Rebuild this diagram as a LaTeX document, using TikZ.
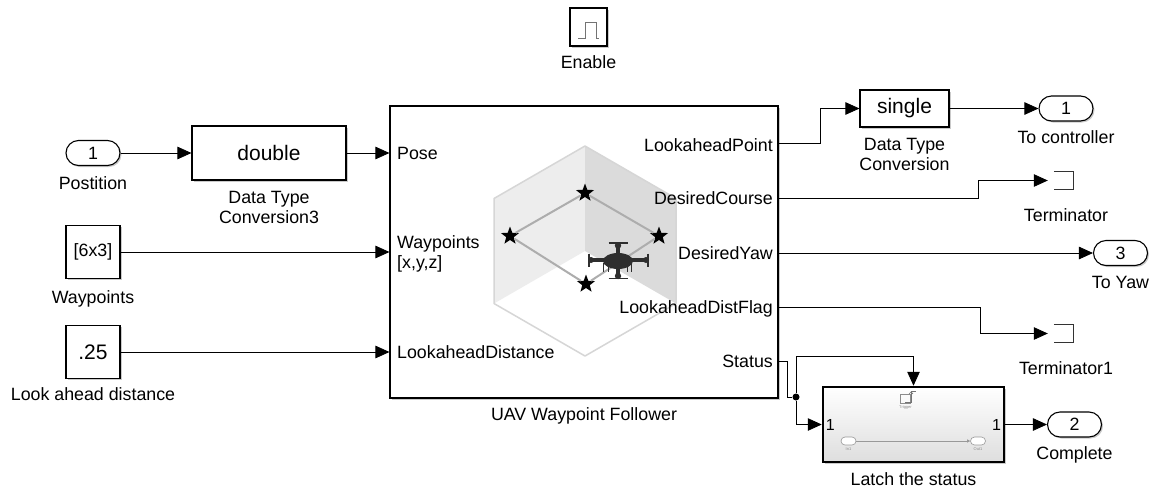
\documentclass[tikz,border=0pt]{standalone}
\usepackage{fontspec}
\setmainfont{Liberation Sans}
\usetikzlibrary{positioning,shapes.geometric,shadows,arrows.meta}

\begin{document}
\begin{tikzpicture}[x=1pt, y=-1pt, node distance=10pt,
    every node/.style={font=\fontsize{17.8}{20}\selectfont},
    blk/.style={draw, line width=1.1pt, fill=white, inner sep=0pt,
      drop shadow={shadow xshift=1.5pt, shadow yshift=-1.5pt, fill=black!60, opacity=.35}},
    port/.style={blk, rounded corners=12.5pt, minimum width=54pt, minimum height=25pt},
    cnst/.style={blk, minimum width=54pt, minimum height=53pt},
    conv/.style={blk, font=\fontsize{21}{24}\selectfont},
    lbl/.style={inner sep=0pt, align=center},
    sig/.style={line width=0.8pt, -{Triangle[length=14pt, width=12.5pt]}},
    wire/.style={line width=0.8pt},
    termbox/.style={minimum width=25pt, minimum height=17pt, inner sep=0pt},
    wpstar/.style={star, star points=5, star point ratio=2.4, fill=black, inner sep=0pt, minimum size=19pt},
    minip/.style={draw=black!40, fill=white, rounded corners=4pt, line width=.6pt, minimum width=15pt, minimum height=8pt, inner sep=0pt},
    tinytxt/.style={font=\fontsize{4}{4}\selectfont, text=black!45, inner sep=0pt}
  ]
  \useasboundingbox (0,0) rectangle (1154,488);

  % inputs
  \node (pos) [port] at (93,153) {1};
  \node (posl) [lbl, below=10pt of pos] {Postition};
  \node (wpc) [cnst] at (93,252) {[6x3]};
  \node (wpcl) [lbl, below=11pt of wpc] {Waypoints};
  \node (ladc) [cnst, font=\fontsize{21}{24}\selectfont] at (93,352) {.25};
  \node (ladcl) [lbl, below=8pt of ladc] {Look ahead distance};

  \node (dtc3) [conv, minimum width=154pt, minimum height=54pt] at (269,153) {double};
  \node (dtc3l) [lbl, below=10pt of dtc3] {Data Type\\Conversion3};

  % enable port
  \node (enb) [blk, minimum width=37pt, minimum height=38pt] at (588.5,27) {};
  \draw[black!55, line width=.8pt] (578,38) -- (585,38) -- (585,22) -- (596,22) -- (596,38) -- (599,38);
  \node (enbl) [lbl, below=9pt of enb] {Enable};

  % follower block
  \node (uav) [blk, minimum width=388pt, minimum height=292pt] at (584,252) {};
  \node (uavl) [lbl, below=9pt of uav] {UAV Waypoint Follower};

  % cube corner icon
  \fill[black!7] (494,198.5) -- (585,146) -- (585,251) -- (494,303.5) -- cycle;
  \fill[black!14] (585,146) -- (676,198.5) -- (676,303.5) -- (585,251) -- cycle;
  \draw[black!16, line width=1.5pt, line join=round] (585,146) -- (676,198.5) -- (676,303.5)
    -- (585,356) -- (494,303.5) -- (494,198.5) -- cycle;
  \node (s1) [wpstar] at (585,193) {};
  \node (s2) [wpstar] at (510,236) {};
  \node (s3) [wpstar] at (659,236) {};
  \node (s4) [wpstar] at (586,284) {};
  \draw[black!32, line width=2pt] (s1) -- (s2) -- (s4) -- (s3) -- (s1);

  % quadcopter
  \begin{scope}[shift={(618,260)}, black!82]
    \fill (-28,-2.2) rectangle (28,2.2);
    \fill (-2.2,-15) rectangle (2.2,16);
    \fill (0,1) ellipse [x radius=15, y radius=8];
    \draw[line width=1.4pt] (-9.5,-17) -- (9.5,-17) (-9.5,18.5) -- (9.5,18.5)
      (-29,-6.5) -- (-29,6.5) (30,-6.5) -- (30,6.5);
    \fill (0,-14.5) circle (3.2) (0,16) circle (3.2) (-27,0) circle (3) (28,0) circle (3);
    \draw[line width=1pt] (-15,3) -- (-15,12) (-10,4) -- (-10,12) (9,4) -- (9,12) (13,3) -- (13,12);
  \end{scope}

  % port names
  \node (pPose) [lbl, anchor=base west] at (397,159) {Pose};
  \node (pWp) [lbl, anchor=north west, align=left] at (397,235.5) {Waypoints\\{[x,y,z]}};
  \node (pLad) [lbl, anchor=base west] at (397,358) {LookaheadDistance};
  \node (pLap) [lbl, anchor=base east] at (773,151) {LookaheadPoint};
  \node (pDc) [lbl, anchor=base east] at (773,204) {DesiredCourse};
  \node (pDy) [lbl, anchor=base east] at (773,259) {DesiredYaw};
  \node (pLdf) [lbl, anchor=base east] at (773,313) {LookaheadDistFlag};
  \node (pSt) [lbl, anchor=base east] at (773,367) {Status};
  \coordinate (oLap) at (778,143);
  \coordinate (oDc) at (778,198);
  \coordinate (oDy) at (778,253);
  \coordinate (oLdf) at (778,307);
  \coordinate (oSt) at (778,361);

  % outputs
  \node (sgl) [conv, minimum width=89pt, minimum height=37pt] at (904.5,108.5) {single};
  \node (sgll) [lbl, below=10pt of sgl] {Data Type\\Conversion};
  \node (out1) [port] at (1066,108.5) {1};
  \node (out1l) [lbl, below=9pt of out1] {To controller};
  \node (term) [termbox] at (1060.5,180.5) {};
  \draw[line width=1pt, black!80] ([xshift=6pt]term.north west) -- (term.north east) -- (term.south east) -- ([xshift=6pt]term.south west);
  \node (terml) [lbl, below=19pt of term, xshift=5.5pt] {Terminator};
  \node (out3) [port] at (1120.5,253) {3};
  \node (out3l) [lbl, below=10pt of out3] {To Yaw};
  \node (term1) [termbox] at (1060.5,333.5) {};
  \draw[line width=1pt, black!80] ([xshift=6pt]term1.north west) -- (term1.north east) -- (term1.south east) -- ([xshift=6pt]term1.south west);
  \node (term1l) [lbl, below=19pt of term1, xshift=5.5pt] {Terminator1};

  % triggered latch
  \node (latch) [blk, line width=2.5pt, top color=white, bottom color=black!13,
    minimum width=181pt, minimum height=75pt] at (913.5,424.5) {};
  \node (latchl) [lbl, below=9pt of latch] {Latch the status};
  \node (lin) [lbl, anchor=west, font=\fontsize{16}{16}\selectfont] at ([xshift=4pt]latch.west) {1};
  \node (lout) [lbl, anchor=east, font=\fontsize{16}{16}\selectfont] at ([xshift=-4pt]latch.east) {1};
  \node (trg) [draw=black!45, line width=.6pt, minimum width=10pt, minimum height=9pt, inner sep=0pt] at (905.5,399) {};
  \draw[black!55, line width=.6pt] (905,402) -- (911,402) -- (911,391) -- (916,391);
  \draw[black!55, line width=.6pt, -{Straight Barb[length=2pt]}] (911,397) -- (911,391.5);
  \node (trgl) [tinytxt, below=2pt of trg] {Trigger};
  \node (in1) [minip] at (848.5,441) {};
  \node (out1s) [minip] at (978,441) {};
  \draw[black!40, line width=.6pt, -{Triangle[length=3pt, width=3pt]}] (in1) -- (out1s);
  \node (in1l) [tinytxt, below=2pt of in1] {In1};
  \node (out1sl) [tinytxt, below=2pt of out1s] {Out1};
  \node (out2) [port] at (1074.5,424.5) {2};
  \node (out2l) [lbl, below=9pt of out2] {Complete};
  \node (jn) [circle, fill, inner sep=0pt, minimum size=7pt] at (796,397) {};

  % signal lines
  \draw[sig] (pos) -- (dtc3);
  \draw[sig] (dtc3) -- (uav.west |- dtc3);
  \draw[sig] (wpc) -- (uav.west |- wpc);
  \draw[sig] (ladc) -- (uav.west |- ladc);
  \draw[sig] (oLap) -- ++(42,0) |- (sgl);
  \draw[sig] (sgl) -- (out1);
  \draw[sig] (oDc) -- ++(200,0) |- (term);
  \draw[sig] (oDy) -- (out3);
  \draw[sig] (oLdf) -- ++(202,0) |- (term1);
  \draw[wire] (oSt) -- ++(9,0) |- (jn);
  \draw[sig] (jn) -- ++(0,-41) -| (latch);
  \draw[sig] (jn) |- (latch);
  \draw[sig] (latch) -- (out2);
\end{tikzpicture}
\end{document}
